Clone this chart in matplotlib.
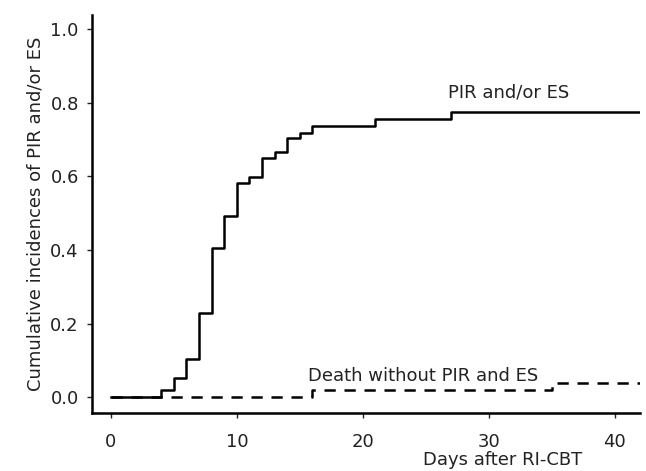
import matplotlib
matplotlib.use("Agg")
import matplotlib.pyplot as plt
import numpy as np

# step times (days) and cumulative incidence after each step
pir_days = [0, 4, 5, 6, 7, 8, 9, 10, 11, 12, 13, 14, 15, 16, 21, 27, 42]
pir_vals = [0.0, 0.019, 0.053, 0.105, 0.229, 0.404, 0.492, 0.581, 0.597,
            0.649, 0.667, 0.703, 0.719, 0.736, 0.757, 0.775, 0.775]

death_days = [0, 16, 35, 42]
death_vals = [0.0, 0.019, 0.040, 0.040]

x_ticks = [0, 10, 20, 30, 40]
y_ticks = [0.0, 0.2, 0.4, 0.6, 0.8, 1.0]

fs = 13
txt = "#222222"

fig = plt.figure(figsize=(6.46, 4.71), dpi=100)
ax = fig.add_axes([0.1424, 0.123, 0.8483, 0.845])

ax.step(pir_days, pir_vals, where="post", color="black", lw=1.8)
ax.step(death_days, death_vals, where="post", color="black", lw=1.8,
        dashes=(4.5, 3.5))

ax.text(31.6, 0.829, "PIR and/or ES", ha="center", va="center", fontsize=fs,
        color=txt)
ax.text(24.8, 0.057, "Death without PIR and ES", ha="center", va="center",
        fontsize=fs, color=txt)

ax.set_xlim(-1.5, 42)
ax.set_ylim(-0.043, 1.038)
ax.set_xticks(x_ticks)
ax.set_yticks(y_ticks)
ax.set_yticklabels(["%.1f" % v for v in y_ticks])

for s in ["top", "right"]:
    ax.spines[s].set_visible(False)
for s in ["left", "bottom"]:
    ax.spines[s].set_linewidth(1.8)

ax.tick_params(direction="out", length=3.5, width=1, labelsize=fs,
               colors=txt)
ax.tick_params(axis="x", pad=11)
ax.tick_params(axis="y", pad=6)
ax.set_ylabel("Cumulative incidences of PIR and/or ES", fontsize=fs,
              color=txt, labelpad=4)
ax.set_xlabel("Days after RI-CBT", fontsize=fs, color=txt, x=0.75,
              labelpad=0)

fig.savefig("out.png", dpi=100)
